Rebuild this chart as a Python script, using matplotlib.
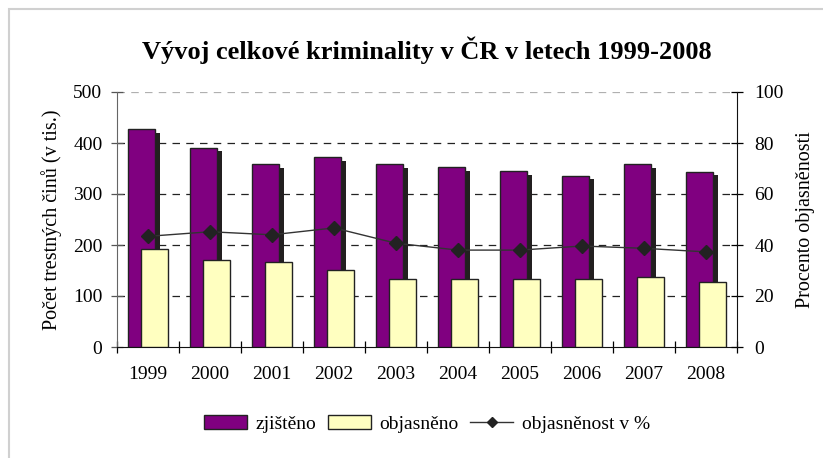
import numpy as np
import matplotlib.pyplot as plt
import matplotlib.patheffects as pe
from matplotlib.patches import Rectangle

plt.rcParams['font.family'] = ['Liberation Serif', 'DejaVu Serif']

years = ['1999', '2000', '2001', '2002', '2003', '2004', '2005', '2006', '2007', '2008']
zjisteno = [427, 391, 358, 372, 358, 352, 345, 336, 358, 344]
objasneno = [193, 171, 167, 151, 134, 134, 134, 134, 137, 128]
procento = [43.4, 45.2, 44.0, 46.7, 40.7, 38.0, 38.0, 39.6, 38.7, 37.3]

fig = plt.figure(figsize=(8.23, 4.58), dpi=100)
# outer chart frame (right/bottom edges fall outside the picture)
fig.patches.append(Rectangle((9 / 823, -0.1), 1.2, 1 - 9 / 458 + 0.1, transform=fig.transFigure,
                             fill=False, edgecolor='#d0d0d0', linewidth=1.5))

ax = fig.add_axes([117 / 823, 1 - 347 / 458, 620 / 823, 255 / 458])
ax2 = ax.twinx()

x = np.arange(len(years))
w = 0.44
off = 0.11

b1 = ax.bar(x - off, zjisteno, w, color='#800080', edgecolor='#222222', linewidth=1.0,
            label='zjištěno', zorder=3)
b2 = ax.bar(x + off, objasneno, w, color='#ffffc0', edgecolor='#222222', linewidth=1.0,
            label='objasněno', zorder=4)

ax2.plot(x, procento, color='#333333', linewidth=1.0, marker='D', markersize=7,
         markerfacecolor='#222222', markeredgecolor='#222222', label='objasněnost v %', zorder=5)

ax.set_xlim(-0.5, len(years) - 0.5)
ax.set_ylim(0, 500)
ax2.set_ylim(0, 100)
ax.set_yticks(np.arange(0, 501, 100))
ax2.set_yticks(np.arange(0, 101, 20))

# gridlines
for v in [100, 200, 300, 400]:
    ax.axhline(v, color='#222222', linestyle=(0, (6, 5)), linewidth=0.9, zorder=1)
ax.axhline(500, color='#b0b0b0', linestyle=(0, (6, 5)), linewidth=0.9, zorder=1)

ax.set_xticks(x)
ax.set_xticklabels(years)
ax.set_xticks(np.arange(-0.5, len(years)), minor=True)
ax.tick_params(axis='x', which='major', length=0, pad=14, labelsize=14)
ax.tick_params(axis='x', which='minor', direction='inout', length=9, width=0.9)
ax.tick_params(axis='y', direction='inout', length=9, width=0.9, pad=6, labelsize=14,
               color='#555555')
ax2.tick_params(axis='y', direction='inout', length=9, width=0.9, pad=8, labelsize=14)

ax.spines['top'].set_visible(False)
ax2.spines['top'].set_visible(False)
ax.spines['left'].set_color('#666666')
ax2.spines['left'].set_visible(False)
ax2.spines['bottom'].set_visible(False)
ax2.spines['right'].set_color('#111111')
ax.spines['bottom'].set_color('#111111')
ax.spines['right'].set_visible(False)

ax.set_ylabel('Počet trestných činů (v tis.)', fontsize=14.5, labelpad=8)
ax2.set_ylabel('Procento objasněnosti', fontsize=14.5, labelpad=9)

ax.set_title('Vývoj celkové kriminality v ČR v letech 1999-2008', fontsize=19,
             fontweight='bold', pad=24)

h1, l1 = ax.get_legend_handles_labels()
h2, l2 = ax2.get_legend_handles_labels()
fig.legend(h1 + h2, l1 + l2, loc='center', bbox_to_anchor=(427 / 823, 1 - 424 / 458),
           ncol=3, frameon=False, fontsize=14, handlelength=2.2, handleheight=0.7,
           columnspacing=0.6, handletextpad=0.45, markerscale=0.75)

# drop shadow on the purple bars (set after the legend so its patch stays flat)
shadow = [pe.SimplePatchShadow(offset=(3.6, -2.5), shadow_rgbFace='#231f20', alpha=1.0), pe.Normal()]
for p in b1:
    p.set_path_effects(shadow)

fig.savefig('out.png', dpi=100)
